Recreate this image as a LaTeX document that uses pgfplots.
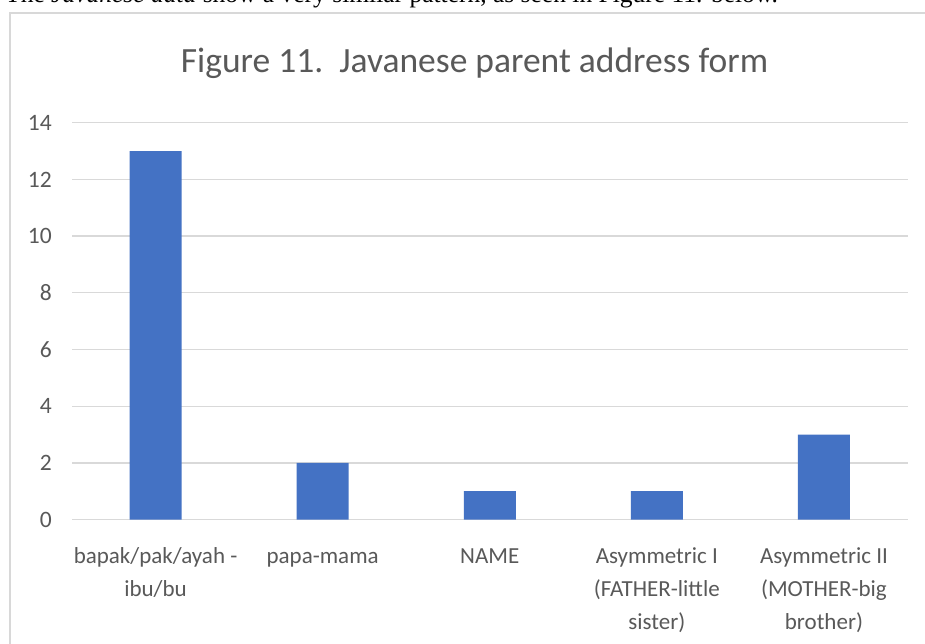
\documentclass[border=0pt]{standalone}
\usepackage{pgfplots}
\pgfplotsset{compat=1.18}
\usepackage{fontspec}
\setmainfont{Carlito}
\newfontfamily\serifbody{Liberation Serif}
\definecolor{barblue}{HTML}{4472C4}
\definecolor{gridgray}{HTML}{D9D9D9}
\definecolor{txtgray}{HTML}{595959}
\definecolor{framegray}{HTML}{D8D8D8}
\begin{document}
\begin{tikzpicture}
\path[use as bounding box] (0pt,0pt) rectangle (925pt,644pt);
\clip (0pt,0pt) rectangle (925pt,644pt);
\fill[white] (0pt,0pt) rectangle (925pt,644pt);
% cut-off body text line above the chart
\node[anchor=base west, inner sep=0pt, font=\serifbody\fontsize{25.5}{30}\selectfont] at (5pt,641pt)
  {The \textit{Javanese data} show a very similar pattern, as seen in Figure 11. below.};
% chart frame
\draw[framegray, line width=2pt] (10pt,-20pt) -- (10pt,630.5pt) -- (960pt,630.5pt);
% title
\node[anchor=base, inner sep=0pt, text=txtgray, font=\fontsize{35.5}{40}\selectfont] at (474.5pt,571pt)
  {Figure 11.\ \ Javanese parent address form};
\begin{axis}[
  at={(72pt,124.4pt)}, anchor=south west,
  scale only axis, width=835.5pt, height=396.9pt,
  xmin=-0.5, xmax=4.5, ymin=0, ymax=14,
  ytick={0,2,...,14},
  xtick={0,1,2,3,4},
  xticklabels={{\strut bapak/pak/ayah -\\ibu/bu},{\strut papa-mama},{\strut NAME},{\strut Asymmetric I\\(FATHER-little\\sister)},{\strut Asymmetric II\\(MOTHER-big\\brother)}},
  axis x line*=bottom,
  axis y line*=left,
  y axis line style={draw=none},
  x axis line style={gridgray, line width=1.6pt, -},
  ymajorgrids,
  grid style={gridgray, line width=1.3pt},
  major tick length=0pt,
  /pgf/number format/assume math mode=true,
  yticklabel style={text=txtgray, font=\fontsize{23.5}{28}\selectfont, anchor=east, inner sep=0pt, xshift=-20pt},
  xticklabel style={text=txtgray, font=\fontsize{23}{33}\selectfont, align=center, anchor=north, inner sep=0pt, yshift=-20.3pt},
  ybar, bar width=52pt,
  clip=false,
]
\addplot[fill=barblue, draw=none] coordinates {(0,13) (1,2) (2,1) (3,1) (4,3)};
\end{axis}
\end{tikzpicture}
\end{document}
